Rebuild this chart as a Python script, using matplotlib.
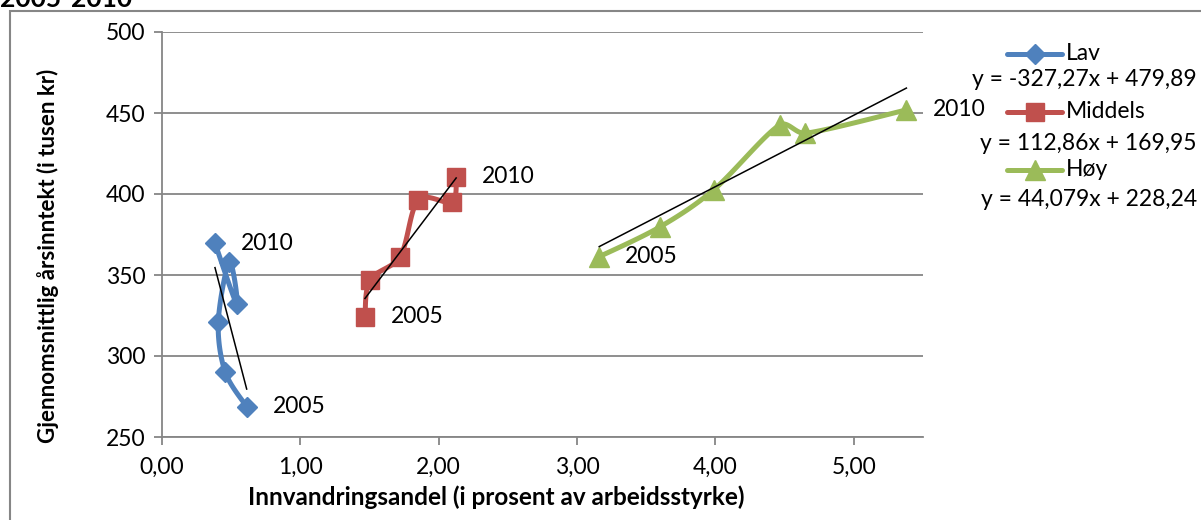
import matplotlib
matplotlib.use("Agg")
import matplotlib.pyplot as plt
from matplotlib.lines import Line2D
from matplotlib.patches import Rectangle
from matplotlib.ticker import FuncFormatter
import numpy as np

plt.rcParams['font.family'] = ['Lato', 'DejaVu Sans']

# ---- data ----
series_names = ["Lav", "Middels", "Høy"]
lav_x = [0.612, 0.456, 0.407, 0.487, 0.540, 0.383]
lav_y = [268.7, 290.3, 321.2, 358.2, 332.1, 369.6]
mid_x = [1.467, 1.504, 1.721, 1.853, 2.095, 2.126]
mid_y = [324.3, 346.9, 361.3, 396.3, 395.2, 410.7]
hoy_x = [3.16, 3.601, 3.986, 4.464, 4.649, 5.38]
hoy_y = [361.3, 379.8, 402.5, 442.6, 437.5, 451.9]
trend_slope = [-327.27, 112.86, 44.079]
trend_intercept = [479.89, 169.95, 228.24]
trend_labels = ["y = -327,27x + 479,89", "y = 112,86x + 169,95", "y = 44,079x + 228,24"]
start_label = "2005"
end_label = "2010"
x_ticks = [0, 1, 2, 3, 4, 5]
y_ticks = [250, 300, 350, 400, 450, 500]

colors = ["#4F81BD", "#C0504D", "#9BBB59"]
markers = ["D", "s", "^"]
msizes = [10.5, 13, 14]

W, H = 1201, 520
fig = plt.figure(figsize=(W / 100, H / 100), dpi=100)

def fx(px):
    return px / W

def fy(py):
    return 1 - py / H

ax = fig.add_axes([fx(162), fy(437), fx(923) - fx(162), fy(32) - fy(437)])

grid_c = "#868686"
xs_all = [lav_x, mid_x, hoy_x]
ys_all = [lav_y, mid_y, hoy_y]


def smooth(xs, ys, n=24):
    # Excel-style smoothed line (bezier through the points)
    P = np.column_stack([xs, ys]).astype(float)
    sx, sy = 138.3, 1.62
    Q = P * np.array([sx, sy])
    out = [Q[0]]
    m = len(Q)
    for i in range(m - 1):
        p0 = Q[i - 1] if i > 0 else Q[i]
        p1 = Q[i]
        p2 = Q[i + 1]
        p3 = Q[i + 2] if i + 2 < m else Q[i + 1]
        seg = np.linalg.norm(p2 - p1)
        d1 = (p2 - p0) / 6
        d2 = (p3 - p1) / 6
        lim = 0.35 * seg
        if np.linalg.norm(d1) > lim:
            d1 = d1 / np.linalg.norm(d1) * lim
        if np.linalg.norm(d2) > lim:
            d2 = d2 / np.linalg.norm(d2) * lim
        c1 = p1 + d1
        c2 = p2 - d2
        t = np.linspace(0, 1, n)[1:, None]
        b = ((1 - t) ** 3) * p1 + 3 * ((1 - t) ** 2) * t * c1 + 3 * (1 - t) * t ** 2 * c2 + t ** 3 * p2
        out.extend(b)
    out = np.array(out) / np.array([sx, sy])
    return out[:, 0], out[:, 1]


for i in range(3):
    xs, ys = xs_all[i], ys_all[i]
    sxs, sys_ = smooth(xs, ys)
    ax.plot(sxs, sys_, color=colors[i], lw=3.6, solid_capstyle='round', solid_joinstyle='round', zorder=3)
    ax.plot(xs, ys, linestyle='none', marker=markers[i], ms=msizes[i], color=colors[i], mec=colors[i], zorder=4)
    # trend line
    tx = np.array([min(xs), max(xs)])
    ax.plot(tx, trend_slope[i] * tx + trend_intercept[i], color='black', lw=1.1, zorder=5)
    # point labels
    ax.annotate(start_label, (xs[0], ys[0]), xytext=(26, 0), textcoords='offset pixels',
                va='center', ha='left', fontsize=16.5, color='black', zorder=6)
    ax.annotate(end_label, (xs[-1], ys[-1]), xytext=(26, 0), textcoords='offset pixels',
                va='center', ha='left', fontsize=16.5, color='black', zorder=6)

ax.set_xlim(0, 5.5)
ax.set_ylim(250, 500)
ax.set_xticks(x_ticks)
ax.set_yticks(y_ticks)
ax.xaxis.set_major_formatter(FuncFormatter(lambda v, p: f"{v:.2f}".replace('.', ',')))
ax.yaxis.set_major_formatter(FuncFormatter(lambda v, p: f"{int(v)}"))
ax.tick_params(axis='both', direction='out', length=6, width=1.3, color=grid_c,
               labelsize=16.5, labelcolor='black', pad=6)
ax.tick_params(axis='x', pad=8)
ax.grid(axis='y', color=grid_c, lw=1.3, zorder=0)
ax.set_axisbelow(True)
for s in ['top', 'right']:
    ax.spines[s].set_visible(False)
for s in ['left', 'bottom']:
    ax.spines[s].set_color(grid_c)
    ax.spines[s].set_linewidth(1.3)

fig.text(fx(496), fy(497), "Innvandringsandel (i prosent av arbeidsstyrke)", ha='center', va='center',
         fontsize=17.5, fontweight='bold')
fig.text(fx(48), fy(256), "Gjennomsnittlig årsinntekt (i tusen kr)", ha='center', va='center',
         rotation=90, fontsize=16, fontweight='bold')

# partially cut title (cut off at the top edge, as in the reference)
fig.text(fx(0), fy(7), "2005-2010", ha='left', va='baseline', fontsize=19, fontweight='bold')

# outer frame
fig.add_artist(Rectangle((fx(10), fy(560)), 1.2, fy(11) - fy(560), transform=fig.transFigure,
                         fill=False, edgecolor=grid_c, lw=1.5))

# legend (manual, Excel-like)
leg_y = [54, 112, 170]
eq_y = [80, 143, 200]
for i in range(3):
    y = fy(leg_y[i])
    fig.add_artist(Line2D([fx(1007), fx(1062)], [y, y], transform=fig.transFigure,
                          color=colors[i], lw=3.6, solid_capstyle='round'))
    fig.add_artist(Line2D([fx(1034.5)], [y], transform=fig.transFigure, marker=markers[i],
                          ms=msizes[i], color=colors[i], linestyle='none'))
    fig.text(fx(1066), y, series_names[i], ha='left', va='center', fontsize=16.5)
    fig.text(fx(1197), fy(eq_y[i]), trend_labels[i], ha='right', va='center', fontsize=16.5)

fig.savefig("out.png", dpi=100)
